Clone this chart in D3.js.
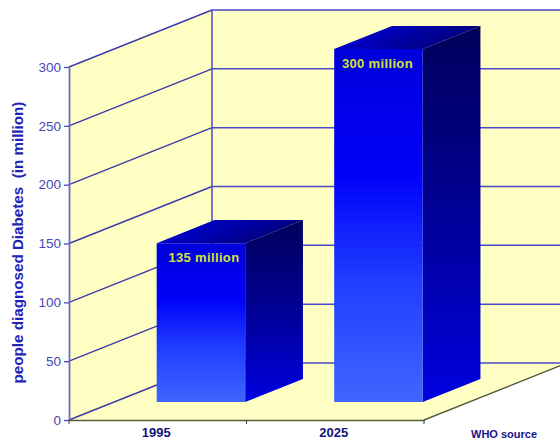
<!DOCTYPE html>
<html>
<head>
<meta charset="utf-8">
<script src="https://cdn.jsdelivr.net/npm/d3@7"></script>
<style>
html, body { margin: 0; padding: 0; background: #fff; }
svg { display: block; font-family: "Liberation Sans", Arial, sans-serif; }
</style>
</head>
<body>
<div id="chart"></div>
<script>
var categories = ['1995', '2025'];
var values = [135, 300];
var valueLabels = ['135 million', '300 million'];
var yTicks = [0, 50, 100, 150, 200, 250, 300];

var width = 560,
    height = 440;

var svg = d3.select('#chart').append('svg')
    .attr('width', width)
    .attr('height', height);

var x = d3.scaleBand().domain(categories).range([69, 424]).paddingInner(0).paddingOuter(0);
var y = d3.scaleLinear().domain([0, 300]).range([420, 67]);

// depth of the 3d box, 0 = front, 1 = back wall
var depthX = d3.scaleLinear().domain([0, 1]).range([0, 143]);
var depthY = d3.scaleLinear().domain([0, 1]).range([0, -57]);
var barWidth = 88.5,
    barFront = 0.316,
    barBack = 0.72;

function pt(px, py, d) {
    return [px + depthX(d), py + depthY(d)];
}
function poly(points) {
    return points.join(' ');
}

var defs = svg.append('defs');
function gradient(id, stops, x2, y2) {
    var g = defs.append('linearGradient').attr('id', id)
        .attr('x1', 0).attr('y1', 0).attr('x2', x2).attr('y2', y2);
    stops.forEach(function (s) {
        g.append('stop').attr('offset', s[0]).attr('stop-color', s[1]);
    });
}
gradient('frontGrad', [[0, '#0000dc'], [0.35, '#0000f8'], [0.65, '#1f3cff'], [1, '#3f66ff']], 0, 1);
gradient('sideGrad', [[0, '#00005a'], [0.45, '#000090'], [1, '#0000e0']], 0, 1);
gradient('topGrad', [[0, '#0000e4'], [1, '#000078']], 1, 0.3);

var wall = '#ffffc4',
    grid = '#4a4ac8',
    axisColor = '#6a6ac8';

// walls and floor
var x0 = x.range()[0], x1 = x.range()[1];
svg.append('polygon').attr('fill', wall)
    .attr('points', poly([pt(x0, y(0), 0), pt(x0, y(300), 0), pt(x0, y(300), 1), pt(x0, y(0), 1)]));
svg.append('polygon').attr('fill', wall)
    .attr('points', poly([pt(x0, y(300), 1), [width, y(300) + depthY(1)], [width, y(0) + depthY(1)], pt(x1, y(0), 1), pt(x1, y(0), 0), pt(x0, y(0), 0)]));

// grid lines on side wall and back wall
svg.append('g').selectAll('line.side').data(yTicks).enter().append('line')
    .attr('x1', x0).attr('y1', function (d) { return y(d); })
    .attr('x2', x0 + depthX(1)).attr('y2', function (d) { return y(d) + depthY(1); })
    .attr('stroke', '#3c3ca8').attr('stroke-width', 1.4);
svg.append('g').selectAll('line.back').data(yTicks).enter().append('line')
    .attr('x1', x0 + depthX(1)).attr('y1', function (d) { return y(d) + depthY(1); })
    .attr('x2', width).attr('y2', function (d) { return y(d) + depthY(1); })
    .attr('stroke', grid).attr('stroke-width', 1.5);
svg.append('line')
    .attr('x1', x0 + depthX(1)).attr('x2', x0 + depthX(1))
    .attr('y1', y(300) + depthY(1)).attr('y2', y(0) + depthY(1))
    .attr('stroke', grid).attr('stroke-width', 1.5);
// floor right edge
svg.append('line')
    .attr('x1', x1).attr('y1', y(0))
    .attr('x2', x1 + depthX(1)).attr('y2', y(0) + depthY(1))
    .attr('stroke', '#55603a').attr('stroke-width', 1.4);

// bars
var bars = svg.append('g').selectAll('g').data(values).enter().append('g');

function barLeft(i) {
    return x(categories[i]) + (x.bandwidth() - barWidth) / 2 - 2;
}
bars.append('polygon').attr('fill', 'url(#topGrad)')
    .attr('points', function (d, i) {
        var l = barLeft(i), r = l + barWidth;
        return poly([pt(l, y(d), barFront), pt(r, y(d), barFront), pt(r, y(d), barBack), pt(l, y(d), barBack)]);
    });
bars.append('polygon').attr('fill', 'url(#sideGrad)')
    .attr('points', function (d, i) {
        var r = barLeft(i) + barWidth;
        return poly([pt(r, y(d), barFront), pt(r, y(d), barBack), pt(r, y(0), barBack), pt(r, y(0), barFront)]);
    });
bars.append('polygon').attr('fill', 'url(#frontGrad)')
    .attr('points', function (d, i) {
        var l = barLeft(i), r = l + barWidth;
        return poly([pt(l, y(d), barFront), pt(r, y(d), barFront), pt(r, y(0), barFront), pt(l, y(0), barFront)]);
    });
bars.append('text')
    .attr('x', function (d, i) { return pt(barLeft(i) + barWidth / 2, y(d), barFront)[0] + (i ? -1 : 3); })
    .attr('y', function (d) { return pt(0, y(d), barFront)[1] + 19; })
    .attr('text-anchor', 'middle')
    .style('font-size', '13px')
    .style('font-weight', 'bold')
    .style('letter-spacing', '0.35px')
    .style('fill', '#d4e23c')
    .text(function (d, i) { return valueLabels[i]; });

// y axis
var yAxis = svg.append('g')
    .attr('transform', 'translate(' + x0 + ',0)')
    .call(d3.axisLeft(y).tickValues(yTicks).tickSize(5).tickSizeOuter(0).tickPadding(3));
yAxis.select('.domain').attr('stroke', axisColor).attr('stroke-width', 1.8);
yAxis.selectAll('.tick line').attr('stroke', '#4a4ab8').attr('stroke-width', 1.3);
yAxis.selectAll('.tick text')
    .style('font-size', '13.5px')
    .style('font-family', '"Liberation Sans", Arial, sans-serif')
    .style('fill', '#4646b8');

// x axis, labels kept just inside the bottom edge
var xAxis = svg.append('g')
    .attr('transform', 'translate(0,' + y(0) + ')')
    .call(d3.axisBottom(x).tickSize(0).tickPadding(8));
xAxis.select('.domain').attr('stroke', '#55603a').attr('stroke-width', 1.4);
xAxis.selectAll('.tick text')
    .attr('dx', -1.5)
    .style('font-size', '13px')
    .style('font-weight', 'bold')
    .style('font-family', '"Liberation Sans", Arial, sans-serif')
    .style('fill', '#14147a');
svg.append('g').selectAll('line')
    .data(categories.concat('end')).enter().append('line')
    .attr('x1', function (d, i) { return x0 + i * x.step(); })
    .attr('x2', function (d, i) { return x0 + i * x.step(); })
    .attr('y1', y(0)).attr('y2', y(0) + 4)
    .attr('stroke', '#3a3a3a');

// y title
svg.append('text')
    .attr('transform', 'translate(23,242.5) rotate(-90)')
    .attr('text-anchor', 'middle')
    .style('font-size', '15.2px')
    .style('font-weight', 'bold')
    .style('fill', '#2222b4')
    .style('white-space', 'pre')
    .text('people diagnosed Diabetes  (in million)');

svg.append('text')
    .attr('x', 471).attr('y', 437.5)
    .style('font-size', '11px')
    .style('font-weight', 'bold')
    .style('fill', '#14148c')
    .text('WHO source');
</script>
</body>
</html>
